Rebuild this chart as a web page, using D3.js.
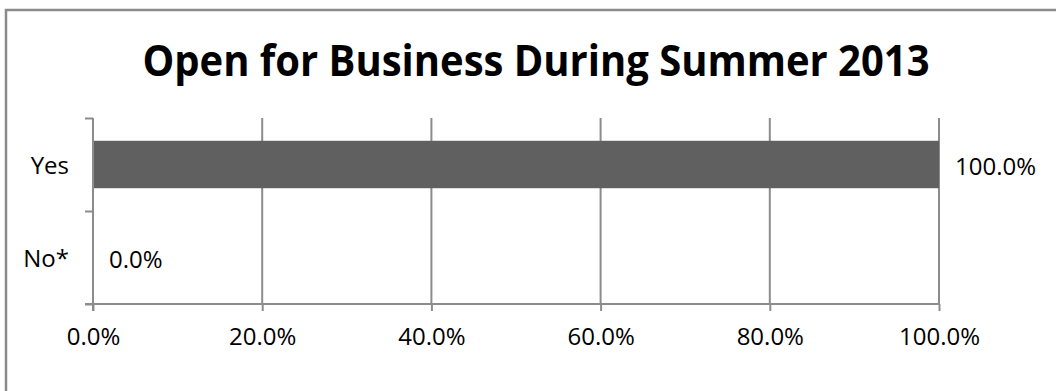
<!DOCTYPE html>
<html>
<head>
<meta charset="utf-8">
<script src="https://cdn.jsdelivr.net/npm/d3@7"></script>
<style>
  body { margin: 0; background: #fff; }
  text { font-family: "Open Sans", "Liberation Sans", sans-serif; fill: #000; }
</style>
</head>
<body>
<div id="chart"></div>
<script>
// data
var categories = ["Yes", "No*"];
var values = [100, 0];
var tickValues = [0, 20, 40, 60, 80, 100];
var title = "Open for Business During Summer 2013";

var W = 1056, H = 391;
var plot = { left: 93, right: 939, top: 118, bottom: 304 };
var gridCol = "#8c8c8c";

var svg = d3.select("#chart").append("svg")
  .attr("width", W)
  .attr("height", H);

// outer frame (only top and left edges visible)
svg.append("rect")
  .attr("x", 6).attr("y", 10)
  .attr("width", W + 20).attr("height", H + 20)
  .attr("fill", "none")
  .attr("stroke", "#8a8a8a")
  .attr("stroke-width", 2.5);

// title
svg.append("text")
  .attr("x", 536).attr("y", 76)
  .attr("text-anchor", "middle")
  .attr("textLength", 787)
  .attr("lengthAdjust", "spacingAndGlyphs")
  .style("font-size", "43px")
  .style("font-weight", "bold")
  .text(title);

// scales
var x = d3.scaleLinear().domain([0, 100]).range([plot.left, plot.right]);
var y = d3.scaleBand().domain(categories).range([plot.top, plot.bottom]);
var yEdge = d3.scaleLinear().domain([0, categories.length]).range([plot.top, plot.bottom]);

// vertical gridlines
svg.append("g")
  .selectAll("line")
  .data(tickValues.slice(1))
  .enter().append("line")
    .attr("x1", function(d) { return x(d); })
    .attr("x2", function(d) { return x(d); })
    .attr("y1", plot.top)
    .attr("y2", plot.bottom)
    .attr("stroke", gridCol)
    .attr("stroke-width", 2);

// bars
var barH = y.bandwidth() * 0.51;
svg.append("g")
  .selectAll("rect")
  .data(categories)
  .enter().append("rect")
    .attr("x", x(0))
    .attr("y", function(d) { return y(d) + (y.bandwidth() - barH) / 2; })
    .attr("width", function(d, i) { return x(values[i]) - x(0); })
    .attr("height", barH)
    .attr("fill", "#606060");

// x axis
var xAxis = svg.append("g")
  .attr("transform", "translate(0," + plot.bottom + ")")
  .call(d3.axisBottom(x)
    .tickValues(tickValues)
    .tickSize(7)
    .tickSizeOuter(0)
    .tickPadding(17)
    .tickFormat(function(d) { return d.toFixed(1) + "%"; }));
xAxis.select(".domain").attr("stroke", gridCol).attr("stroke-width", 2)
  .attr("d", "M" + (plot.left - 8) + ",0H" + plot.right);
xAxis.selectAll(".tick line").attr("stroke", gridCol).attr("stroke-width", 2);
xAxis.selectAll(".tick text")
  .style("font-size", "24px")
  .style("font-family", "'Open Sans', sans-serif");

// y axis (ticks at category edges)
var yAxis = svg.append("g")
  .attr("transform", "translate(" + plot.left + ",0)")
  .call(d3.axisLeft(yEdge)
    .tickValues(d3.range(categories.length + 1))
    .tickSize(8)
    .tickSizeOuter(0)
    .tickFormat(""));
yAxis.select(".domain").attr("stroke", gridCol).attr("stroke-width", 2)
  .attr("d", "M0," + plot.top + "V" + (plot.bottom + 7));
yAxis.selectAll(".tick line").attr("stroke", gridCol).attr("stroke-width", 2);

// category labels
svg.append("g")
  .selectAll("text")
  .data(categories)
  .enter().append("text")
    .attr("x", 69)
    .attr("y", function(d) { return y(d) + y.bandwidth() / 2 + 1; })
    .attr("dy", "0.35em")
    .attr("text-anchor", "end")
    .style("font-size", "24px")
    .text(function(d) { return d; });

// value labels
svg.append("g")
  .selectAll("text")
  .data(categories)
  .enter().append("text")
    .attr("x", function(d, i) { return x(values[i]) + 16; })
    .attr("y", function(d) { return y(d) + y.bandwidth() / 2 + 2; })
    .attr("dy", "0.35em")
    .style("font-size", "24px")
    .text(function(d, i) { return values[i].toFixed(1) + "%"; });
</script>
</body>
</html>
